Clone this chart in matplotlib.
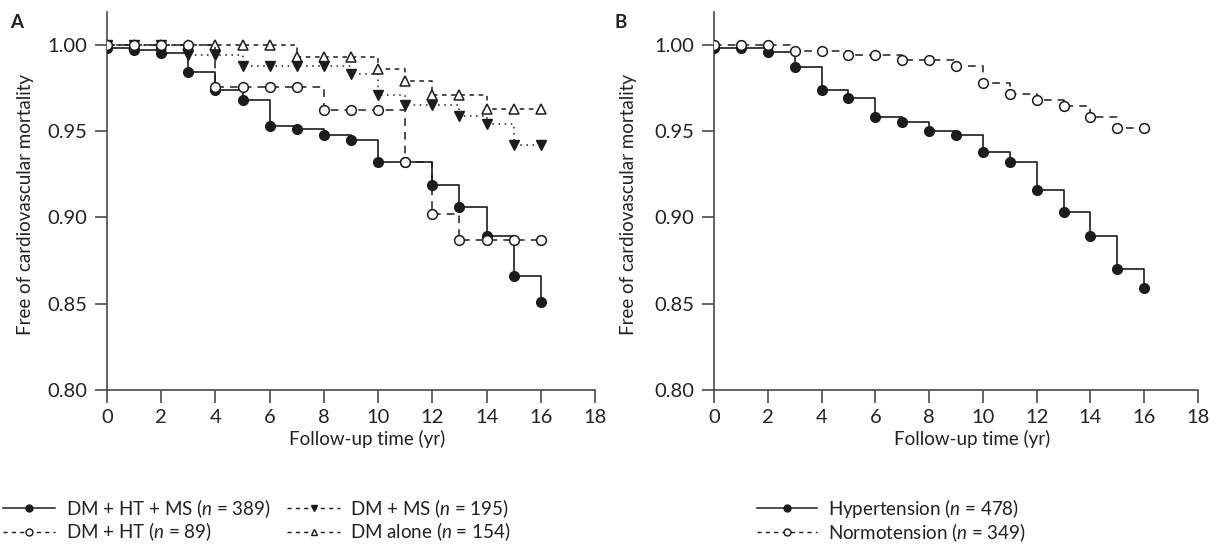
import matplotlib
matplotlib.use("Agg")
import matplotlib.pyplot as plt
from matplotlib.lines import Line2D

plt.rcParams['font.family'] = ['Lato', 'DejaVu Sans']
plt.rcParams['mathtext.fontset'] = 'custom'
plt.rcParams['mathtext.rm'] = 'Lato'
plt.rcParams['mathtext.it'] = 'Lato:italic'

years = list(range(17))

# Panel A
dm_ht_ms = [0.998, 0.997, 0.995, 0.984, 0.974, 0.968, 0.953, 0.951, 0.948, 0.945,
            0.932, 0.932, 0.919, 0.906, 0.889, 0.866, 0.851]
dm_ht = [1.000, 1.000, 1.000, 1.000, 0.9755, 0.9755, 0.9755, 0.9755, 0.962, 0.962,
         0.962, 0.932, 0.902, 0.887, 0.887, 0.887, 0.887]
dm_ms = [1.000, 1.000, 1.000, 0.994, 0.994, 0.988, 0.988, 0.988, 0.988, 0.983,
         0.971, 0.965, 0.965, 0.959, 0.954, 0.942, 0.942]
dm_alone = [1.000, 1.000, 1.000, 1.000, 1.000, 1.000, 1.000, 0.993, 0.993, 0.993,
            0.986, 0.979, 0.971, 0.971, 0.963, 0.963, 0.963]

# Panel B
hypertension = [0.998, 0.998, 0.996, 0.987, 0.974, 0.969, 0.958, 0.955, 0.950, 0.948,
                0.938, 0.932, 0.916, 0.903, 0.889, 0.870, 0.859]
normotension = [1.000, 1.000, 1.000, 0.9965, 0.9965, 0.994, 0.994, 0.991, 0.991, 0.9875,
                0.978, 0.9715, 0.968, 0.9645, 0.958, 0.952, 0.952]

labels_a = [r"DM + HT + MS ($\mathit{n}$ = 389)", r"DM + HT ($\mathit{n}$ = 89)",
            r"DM + MS ($\mathit{n}$ = 195)", r"DM alone ($\mathit{n}$ = 154)"]
labels_b = [r"Hypertension ($\mathit{n}$ = 478)", r"Normotension ($\mathit{n}$ = 349)"]

xticks = list(range(0, 19, 2))
yticks = [0.80, 0.85, 0.90, 0.95, 1.00]

LC = '#1c1c1c'
SPC = '#4a4a4a'
TC = '#222222'
FS = 13.5
TFS = 14.5

fig = plt.figure(figsize=(12.2, 5.54), dpi=100)
axA = fig.add_axes([107/1220, 1-390/554, (595-107)/1220, (390-12)/554])
axB = fig.add_axes([714/1220, 1-390/554, (1198-714)/1220, (390-12)/554])

MS = 7

def style(ax):
    ax.set_xlim(0, 18)
    ax.set_ylim(0.80, 1.019)
    ax.set_xticks(xticks)
    ax.set_yticks(yticks)
    ax.set_yticklabels([f"{v:.2f}" for v in yticks])
    for s in ['top', 'right']:
        ax.spines[s].set_visible(False)
    for s in ['left', 'bottom']:
        ax.spines[s].set_color(SPC)
        ax.spines[s].set_linewidth(1.2)
    ax.tick_params(direction='out', length=9, width=1.2, color=SPC,
                   labelsize=TFS, labelcolor=TC, pad=5)
    ax.set_xlabel("Follow-up time (yr)", fontsize=FS, color=TC)
    ax.set_ylabel("Free of cardiovascular mortality", fontsize=FS, color=TC)
    ax.xaxis.set_label_coords(0.533, -0.106)

style(axA)
style(axB)
axA.yaxis.set_label_coords(-0.150, 0.49)
axB.yaxis.set_label_coords(-0.160, 0.49)

# Panel A curves
axA.step(years, dm_ht_ms, where='post', color=LC, lw=1.2, ls='-',
         marker='o', ms=MS, mfc=LC, mec=LC, zorder=3)
axA.step(years, dm_alone, where='post', color=LC, lw=1.1, ls=(0, (3, 3)),
         marker='^', ms=MS, mfc='white', mec=LC, mew=1.1, zorder=4)
axA.step(years, dm_ms, where='post', color=LC, lw=1.1, ls=(0, (1, 3)),
         marker='v', ms=MS, mfc=LC, mec=LC, zorder=5)
axA.step(years, dm_ht, where='post', color=LC, lw=1.1, ls=(0, (5, 4)),
         marker='o', ms=MS, mfc='white', mec=LC, mew=1.1, zorder=6)

# Panel B curves
axB.step(years, hypertension, where='post', color=LC, lw=1.2, ls='-',
         marker='o', ms=MS, mfc=LC, mec=LC, zorder=3)
axB.step(years, normotension, where='post', color=LC, lw=1.1, ls=(0, (5, 4)),
         marker='o', ms=MS, mfc='white', mec=LC, mew=1.1, zorder=4)

fig.text(10/1220, 1-14/554, "A", fontsize=FS, fontweight='bold', va='top', ha='left', color=TC)
fig.text(615/1220, 1-14/554, "B", fontsize=FS, fontweight='bold', va='top', ha='left', color=TC)

LMS = 5
hA = [Line2D([], [], color=LC, lw=1.1, ls='-', marker='o', ms=LMS, mfc=LC, mec=LC),
      Line2D([], [], color=LC, lw=1.0, ls=(0, (3, 3)), marker='o', ms=LMS, mfc='white', mec=LC),
      Line2D([], [], color=LC, lw=1.0, ls=(0, (3, 3)), marker='v', ms=LMS, mfc=LC, mec=LC),
      Line2D([], [], color=LC, lw=1.0, ls=(0, (3, 3)), marker='^', ms=LMS, mfc='white', mec=LC)]
hB = [Line2D([], [], color=LC, lw=1.1, ls='-', marker='o', ms=LMS, mfc=LC, mec=LC),
      Line2D([], [], color=LC, lw=1.0, ls=(0, (3, 3)), marker='o', ms=LMS, mfc='white', mec=LC)]

legA = fig.legend(hA, labels_a, ncol=2, loc='upper left', bbox_to_anchor=(3/1220, 1-497/554),
                  frameon=False, fontsize=FS, handlelength=2.8, handletextpad=0.55,
                  columnspacing=0.9, labelspacing=0.05, borderaxespad=0, borderpad=0.0,
                  labelcolor=TC)
legB = fig.legend(hB, labels_b, ncol=1, loc='upper left', bbox_to_anchor=(757/1220, 1-497/554),
                  frameon=False, fontsize=FS, handlelength=3.2, handletextpad=0.6,
                  labelspacing=0.05, borderaxespad=0, borderpad=0.0, labelcolor=TC)

fig.savefig("out.png", dpi=100)
